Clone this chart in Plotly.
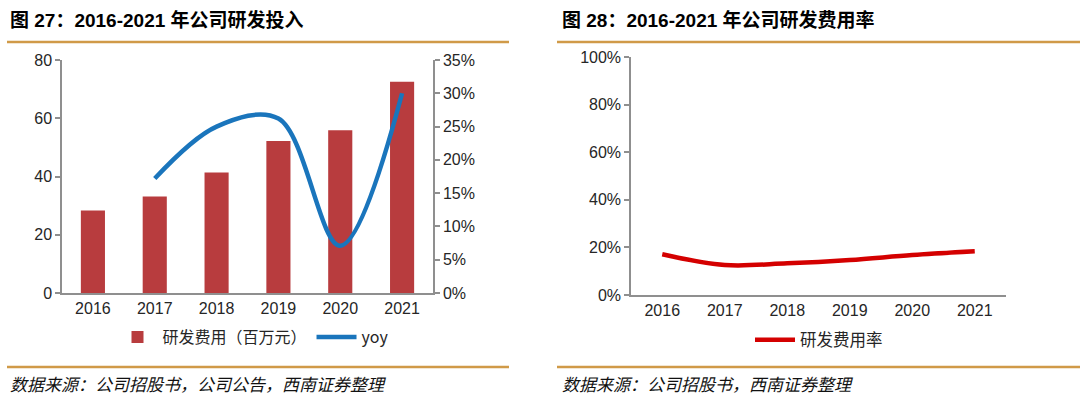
import plotly.graph_objects as go

years = ["2016", "2017", "2018", "2019", "2020", "2021"]
rd_expense = [28.3, 33.1, 41.4, 52.2, 55.9, 72.5]          # 研发费用（百万元）
rd_yoy = [None, 0.172, 0.250, 0.262, 0.071, 0.300]         # yoy
rd_ratio = [0.171, 0.126, 0.133, 0.147, 0.168, 0.184]      # 研发费用率

left_title = "<b>图 27：2016-2021 年公司研发投入</b>"
right_title = "<b>图 28：2016-2021 年公司研发费用率</b>"
left_source = "<i>数据来源：公司招股书，公司公告，西南证券整理</i>"
right_source = "<i>数据来源：公司招股书，西南证券整理</i>"

FONT = "Liberation Sans, Arial, Noto Sans CJK SC, sans-serif"
CJK = "Noto Sans CJK SC, Liberation Sans, sans-serif"
AXIS = "#8f8f8f"
TXT = "#262626"
GOLD = "#D09A48"

fig = go.Figure()

fig.add_trace(go.Bar(
    x=years, y=rd_expense, name="研发费用（百万元）",
    marker=dict(color="#B83C3E", line=dict(width=0)),
    width=0.39, xaxis="x", yaxis="y", legend="legend",
))
fig.add_trace(go.Scatter(
    x=years, y=rd_yoy, name="yoy", mode="lines",
    line=dict(color="#1A75BC", width=4.5, shape="spline", smoothing=1.0),
    xaxis="x", yaxis="y2", legend="legend",
))
fig.add_trace(go.Scatter(
    x=years, y=rd_ratio, name="研发费用率", mode="lines",
    line=dict(color="#D40000", width=4.5, shape="spline", smoothing=1.0),
    xaxis="x2", yaxis="y3", legend="legend2",
))

tickfont = dict(family=FONT, size=16, color=TXT)
common_axis = dict(showgrid=False, zeroline=False, showline=True,
                   linecolor=AXIS, linewidth=1.5, tickfont=tickfont)

fig.update_layout(
    width=1080, height=400,
    margin=dict(l=0, r=0, t=0, b=0, pad=0, autoexpand=False),
    paper_bgcolor="white", plot_bgcolor="white",
    font=dict(family=FONT, color=TXT),
    xaxis=dict(domain=[62/1080, 433/1080], anchor="y", type="category",
               range=[-0.5, 5.5], ticks="", **common_axis),
    yaxis=dict(domain=[1-293/400, 1-60/400], anchor="x", range=[0, 80],
               tickvals=[0, 20, 40, 60, 80], ticks="outside", ticklen=5,
               tickcolor=AXIS, tickwidth=1.5, **common_axis),
    yaxis2=dict(overlaying="y", side="right", anchor="x", range=[0, 0.35],
                tickvals=[0, 0.05, 0.10, 0.15, 0.20, 0.25, 0.30, 0.35],
                tickformat=".0%", ticks="outside", ticklen=5,
                tickcolor=AXIS, tickwidth=1.5, **common_axis),
    xaxis2=dict(domain=[631/1080, 1006/1080], anchor="y3", type="category",
                range=[-0.5, 5.5], ticks="", **common_axis),
    yaxis3=dict(domain=[1-295/400, 1-57/400], anchor="x2", range=[0, 1],
                tickvals=[0, 0.2, 0.4, 0.6, 0.8, 1.0], tickformat=".0%",
                ticks="outside", ticklen=5, tickcolor=AXIS, tickwidth=1.5,
                **common_axis),
    legend=dict(orientation="h", x=253/1080, xanchor="center",
                y=1-337/400, yanchor="middle", bgcolor="rgba(0,0,0,0)",
                font=dict(family=CJK, size=16, color=TXT), itemwidth=40),
    legend2=dict(orientation="h", x=819/1080, xanchor="center",
                 y=1-340/400, yanchor="middle", bgcolor="rgba(0,0,0,0)",
                 font=dict(family=CJK, size=16.5, color=TXT), itemwidth=40),
    showlegend=True,
)

# header / footer rules
for x0, x1 in [(7/1080, 509/1080), (557/1080, 1.0)]:
    fig.add_shape(type="line", xref="paper", yref="paper", x0=x0, x1=x1,
                  y0=1-42/400, y1=1-42/400, line=dict(color=GOLD, width=2.5))
    fig.add_shape(type="line", xref="paper", yref="paper", x0=x0, x1=x1,
                  y0=1-367/400, y1=1-367/400, line=dict(color=GOLD, width=2.5))

annos = [
    (8/1080, 1-20/400, left_title, 19, "black"),
    (560/1080, 1-20/400, right_title, 19, "black"),
    (8/1080, 1-385/400, left_source, 17, "#111111"),
    (560/1080, 1-385/400, right_source, 17, "#111111"),
]
for x, y, t, s, c in annos:
    fig.add_annotation(x=x, y=y, xref="paper", yref="paper", text=t,
                       showarrow=False, xanchor="left", yanchor="middle",
                       font=dict(family=FONT, size=s, color=c))

fig.write_html("out.html",
               config={"displayModeBar": False},
               post_script="document.body.style.margin='0px';"
                           "document.body.style.overflow='hidden';")
